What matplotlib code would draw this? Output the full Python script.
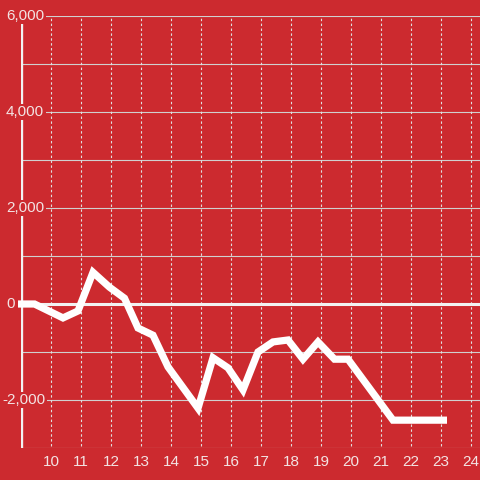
import matplotlib.pyplot as plt

# values
x_vals = [8.9, 9.45, 10.4, 10.9, 11.4, 11.95, 12.45, 12.9, 13.4, 13.9, 14.9,
          15.4, 15.9, 16.4, 16.9, 17.4, 17.9, 18.4, 18.9, 19.45, 19.9, 21.4, 23.2]
y_vals = [0, 0, -290, -145, 660, 350, 120, -500, -650, -1310, -2170,
          -1120, -1330, -1790, -1000, -790, -750, -1150, -790, -1150, -1150, -2420, -2420]

y_ticks = [-2000, 0, 2000, 4000, 6000]
y_labels = ['-2,000', '0', '2,000', '4,000', '6,000']
x_ticks = list(range(10, 25))

BG = '#cc2a2f'
TXT = '#f3e3e3'

fig = plt.figure(figsize=(4.8, 4.8), dpi=100, facecolor=BG)
ax = fig.add_axes([21 / 480, 32 / 480, 459 / 480, 432 / 480])
ax.set_facecolor(BG)
ax.set_xlim(9.0, 24.3)
ax.set_ylim(-3000, 6000)

for s in ax.spines.values():
    s.set_visible(False)

# grid
for v in range(-3000, 6001, 1000):
    if v == 0:
        continue
    ax.axhline(v, color='#d0d0d0', lw=0.8, zorder=1)
for v in x_ticks:
    ax.plot([v, v], [-2960, 6000], color='#e0e0e0', lw=0.8,
            ls=(0, (2.2, 2.2)), zorder=1)
ax.axhline(0, color='#f2f2f2', lw=2.2, zorder=2)
ax.axvline(9.0, color='#f2f2f2', lw=2.4, zorder=2)

ax.plot(x_vals, y_vals, color='white', lw=5.2, solid_joinstyle='miter',
        solid_capstyle='butt', zorder=6, clip_on=False)

ax.set_xticks([])
ax.set_yticks([])

# y labels sit over the axis line with a background patch
for v, lab in zip(y_ticks, y_labels):
    px = 2 if lab.startswith('-') else 6
    ax.text(9.0 + (px - 21) / 30, v, lab, ha='left', va='center', color=TXT,
            fontsize=11, family='Liberation Sans', zorder=5, clip_on=False,
            bbox=dict(facecolor=BG, edgecolor='none', pad=1.0))

for v in x_ticks:
    ax.text(v, -3300, str(v), ha='center', va='center', color=TXT,
            fontsize=11, family='Liberation Sans', clip_on=False)

fig.savefig('out.png', dpi=100, facecolor=BG)
